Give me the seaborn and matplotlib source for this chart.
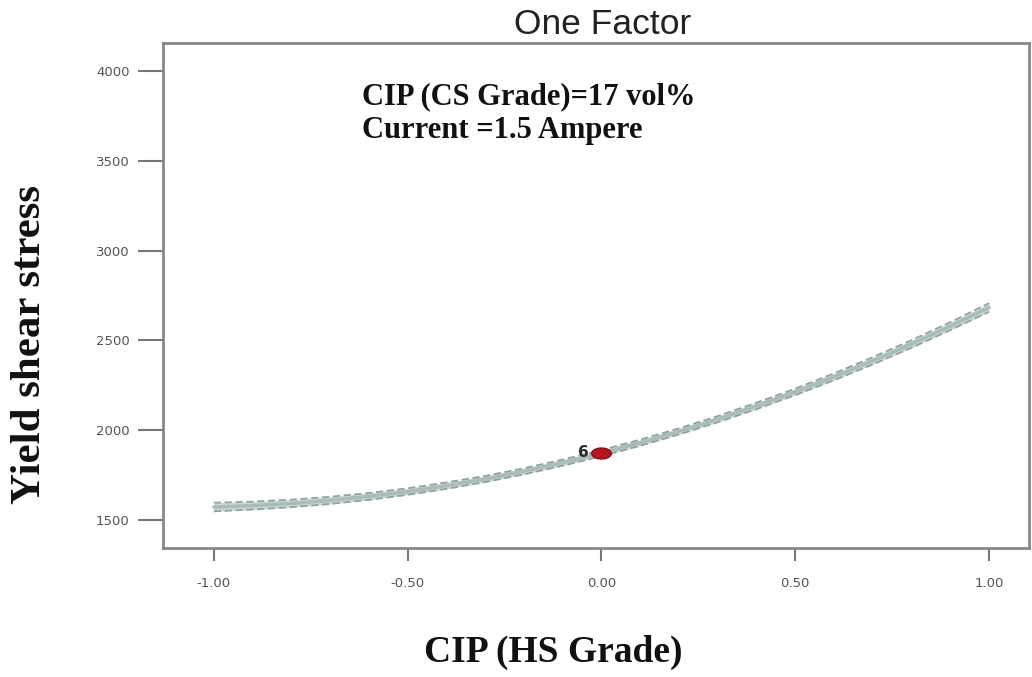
import numpy as np
import pandas as pd
import matplotlib
matplotlib.use("Agg")
import matplotlib.pyplot as plt
from matplotlib.path import Path
import seaborn as sns

# Predicted response along the HS-grade factor (coded units)
hs_grade = [-1.0, -0.9, -0.8, -0.7, -0.6, -0.5, -0.4, -0.3, -0.2, -0.1, 0.0,
            0.1, 0.2, 0.3, 0.4, 0.5, 0.6, 0.7, 0.8, 0.9, 1.0]
yield_stress = [1572, 1580, 1592, 1609, 1631, 1658, 1691, 1728, 1771, 1819, 1872,
                1930, 1993, 2061, 2135, 2213, 2297, 2386, 2480, 2579, 2683]
# 95% confidence band half-width
ci_half = [24, 22, 21, 20, 19, 18, 18, 17, 17, 17, 17,
           17, 17, 17, 18, 18, 19, 20, 21, 22, 24]

design_x = [0.0]
design_y = [1872]
design_label = "6"

x_ticks = [-1.00, -0.50, 0.00, 0.50, 1.00]
y_ticks = [1500, 2000, 2500, 3000, 3500, 4000]

df = pd.DataFrame({"x": hs_grade, "y": yield_stress, "h": ci_half})
df["lo"] = df["y"] - df["h"]
df["hi"] = df["y"] + df["h"]

sns.set_style("white")
fig = plt.figure(figsize=(10.32, 6.77), dpi=100)
ax = fig.add_axes([0.158, 0.1906, 0.839, 0.7459])

ax.fill_between(df["x"], df["lo"], df["hi"], color="#c4d4d2", alpha=0.9, lw=0)
sns.lineplot(data=df, x="x", y="y", ax=ax, color="#a9bcbb", lw=2.5)
sns.lineplot(data=df, x="x", y="lo", ax=ax, color="#8fa2a1", lw=1.3, linestyle=(0, (4, 2)))
sns.lineplot(data=df, x="x", y="hi", ax=ax, color="#8fa2a1", lw=1.3, linestyle=(0, (4, 2)))

# flattened ellipse marker for the design point
t = np.linspace(0, 2 * np.pi, 60)
ellipse = Path(np.column_stack([1.8 * np.cos(t), np.sin(t)]), closed=True)
sns.scatterplot(x=design_x, y=design_y, ax=ax, color="#b3161c", s=200,
                marker=ellipse, edgecolor="#8a0e12", linewidth=1, zorder=5)
ax.annotate(design_label, (design_x[0], design_y[0]), xytext=(-13, 0.5),
            textcoords="offset points", ha="center", va="center",
            fontsize=11, fontweight="bold", color="#2a2a2a")

ax.set_xlim(-1.131, 1.103)
ax.set_ylim(1344, 4156)
ax.set_xticks(x_ticks)
ax.set_xticklabels([f"{t:.2f}" for t in x_ticks])
ax.set_yticks(y_ticks)
ax.set_yticklabels([str(t) for t in y_ticks])
ax.tick_params(axis="both", which="both", direction="out", length=9, width=1.5,
               color="#777777", labelsize=9.5, labelcolor="#555555",
               left=True, bottom=True)
ax.tick_params(axis="x", pad=12)
ax.tick_params(axis="y", length=18, pad=6)

for sp in ax.spines.values():
    sp.set_color("#888888")
    sp.set_linewidth(2)

ax.set_xlabel("")
ax.set_ylabel("")
fig.text(603 / 1032, 1 - 24 / 677, "One Factor", ha="center", va="center",
         fontsize=25.5, color="#222222", family="Liberation Sans")
fig.text(30 / 1032, 1 - 345 / 677, "Yield shear stress", rotation=90,
         ha="center", va="center", fontsize=31, fontweight="bold",
         family="Liberation Serif", color="#111111")
fig.text(553 / 1032, 1 - 662 / 677, "CIP (HS Grade)", ha="center", va="baseline",
         fontsize=27, fontweight="bold", family="Liberation Serif", color="#111111")
fig.text(362 / 1032, 1 - 104 / 677, "CIP (CS Grade)=17 vol%", ha="left",
         va="baseline", fontsize=22, fontweight="bold", family="Liberation Serif",
         color="#111111")
fig.text(362 / 1032, 1 - 138 / 677, "Current =1.5 Ampere", ha="left",
         va="baseline", fontsize=22, fontweight="bold", family="Liberation Serif",
         color="#111111")

fig.savefig("out.png", dpi=100)
